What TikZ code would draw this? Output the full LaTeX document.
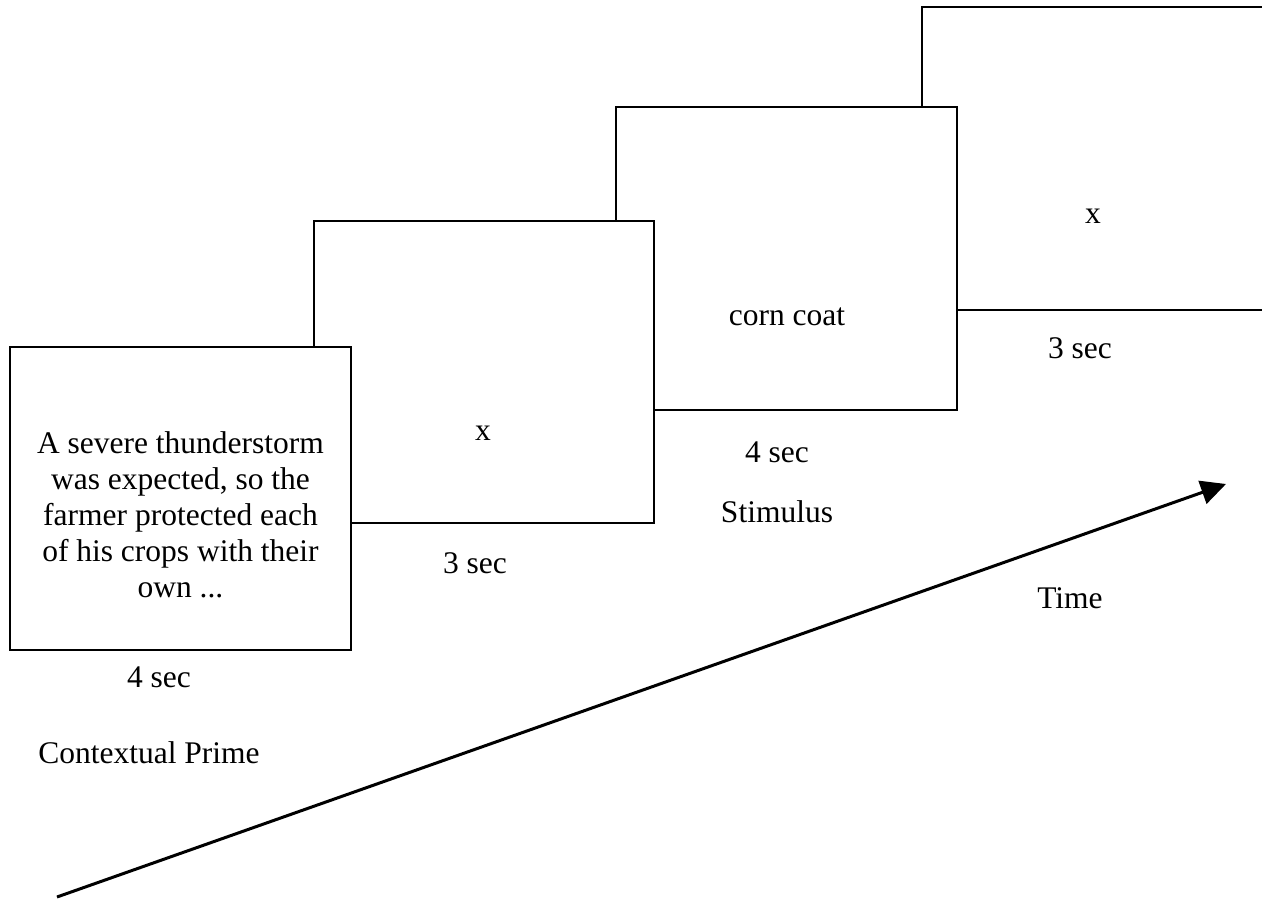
\documentclass[tikz,border=0pt]{standalone}
\usepackage{fontspec}
\setmainfont{Liberation Serif}
\usetikzlibrary{arrows.meta}

\tikzset{
  panel/.style={draw=black, line width=1.8pt, fill=white, inner sep=0pt, outer sep=0pt},
  caption/.style={anchor=base, inner sep=0pt, font=\fontsize{31.5}{36}\selectfont},
  timeline/.style={line width=3pt, -{Triangle[length=25pt,width=24pt]}}
}

\begin{document}
\begin{tikzpicture}[x=1pt, y=-1pt]
  \clip (0,0) rectangle (1262,899);

  % screens, later ones drawn first so earlier ones sit on top
  \node[panel, minimum width=353pt, minimum height=303pt] (blankB) at (1098.5,158.5) {};
  \node[panel, minimum width=341pt, minimum height=303pt] (stim)   at (786.5,258.5) {};
  \node[panel, minimum width=340pt, minimum height=302pt] (blankA) at (484,372) {};
  \node[panel, minimum width=341pt, minimum height=303pt] (prime)  at (180.5,498.5) {};

  % screen contents
  \node[caption, anchor=north, align=center] (primeText) at (180.5,431.3)
    {A severe thunderstorm\\was expected, so the\\farmer protected each\\of his crops with their\\own ...};
  \node[caption] (fixA) at (483,440) {x};
  \node[caption] (stimText) at (787,325) {corn coat};
  \node[caption] (fixB) at (1093,223) {x};

  % durations and labels
  \node[caption] (durPrime) at (159,687) {4 sec};
  \node[caption] (lblPrime) at (149,763) {Contextual Prime};
  \node[caption] (durFixA) at (475,573) {3 sec};
  \node[caption] (durStim) at (777,462) {4 sec};
  \node[caption] (lblStim) at (777,522) {Stimulus};
  \node[caption] (durFixB) at (1080,358) {3 sec};
  \node[caption] (lblTime) at (1070,608) {Time};

  % time axis
  \coordinate (tStart) at (57,897);
  \coordinate (tEnd) at (1226,484);
  \draw[timeline] (tStart) -- (tEnd);
\end{tikzpicture}
\end{document}
